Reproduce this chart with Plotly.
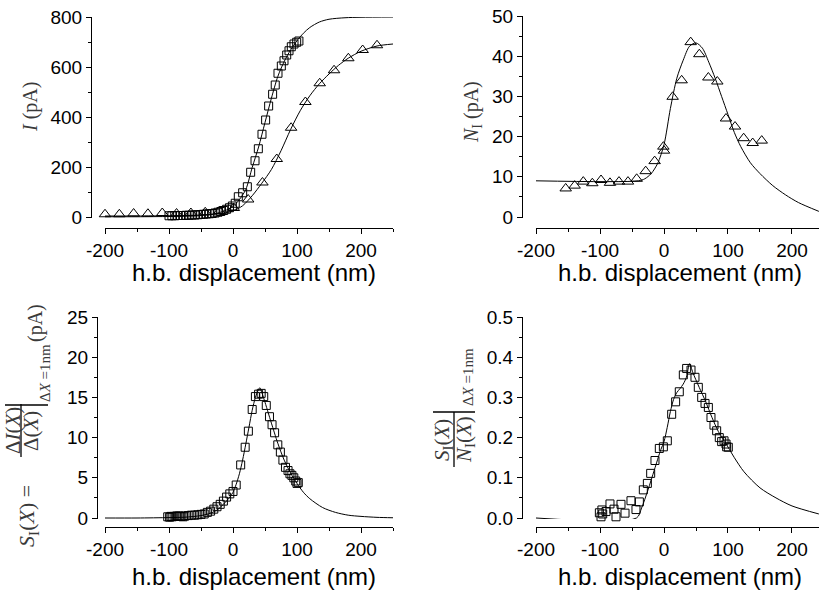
import plotly.graph_objects as go

# ---------------- data ----------------
# Panel A: current I (pA) vs h.b. displacement (nm)
tri_a_x = [-200, -177.6, -155.3, -132.9, -110.5, -88.2, -65.8, -43.4, -21.1, 1.3,
           23.7, 46.0, 68.4, 90.8, 113.1, 135.5, 157.9, 180.2, 202.6, 225.0]
tri_a_y = [11, 11, 14, 13, 16, 14, 16, 19, 24, 36,
           70, 138, 232, 357, 460, 535, 587, 635, 668, 687]
sq_a_x = [-100, -95.5, -91, -86.5, -82, -77.5, -73, -68.5, -64, -59.5, -55, -50.5,
          -46, -41.5, -37, -32.5, -28, -23.5, -19, -14.5, -10, -5.5, -1, 3.5, 8.3,
          15.1, 22.4, 27.6, 34.4, 39.6, 45.3, 51.0, 55.7, 61.9, 66.0, 70.3, 75.5,
          79.7, 83.9, 87.5, 91.1, 95.3, 99.5, 103.0]
sq_a_y = [5, 5, 5, 6, 6, 6, 7, 7, 8, 8, 9, 10, 11, 12, 13, 14, 16, 19, 22, 26, 31,
          37, 44, 55, 81, 97, 121, 179, 225, 273, 331, 388, 444, 491, 528, 575,
          604, 625, 648, 665, 681, 692, 699, 704]
fit_sq_a_x = [-200, -150, -100, -75, -50, -25, -10, 0, 10, 20, 30, 40, 50, 60, 70,
              80, 90, 100, 110, 120, 135, 150, 175, 200, 250]
fit_sq_a_y = [1, 1, 2, 3, 6, 15, 28, 42, 70, 110, 198, 280, 378, 475, 562, 622,
              668, 705, 735, 758, 780, 791, 797, 799, 800]
fit_tri_a_x = [-200, -150, -100, -50, -25, 0, 15, 30, 45, 60, 75, 90, 105, 120,
               135, 150, 165, 180, 200, 225, 250]
fit_tri_a_y = [4, 4, 5, 8, 12, 24, 45, 85, 135, 190, 265, 350, 425, 485, 533, 572,
               607, 635, 663, 684, 692]

# Panel B: N_I (pA)
tri_b_x = [-153.6, -139.6, -126.1, -112.0, -98.4, -84.4, -70.3, -56.3, -42.7, -28.6,
           -14.6, -1.0, 0.0, 13.5, 27.6, 41.7, 55.2, 69.3, 83.3, 96.9, 111.0, 124.5,
           138.6, 152.7]
tri_b_y = [7.1, 7.8, 8.8, 8.4, 9.2, 8.5, 8.8, 8.8, 9.5, 11.4, 13.9, 17.5, 16.5, 29.9,
           34.0, 43.5, 40.5, 34.7, 33.7, 24.5, 22.5, 19.6, 18.4, 19.0]
fit_b_x = [-200, -40, -30, -20, -10, 0, 10, 20, 30, 40, 50, 60, 70, 80, 90, 100, 110,
           120, 135, 150, 170, 190, 210, 242]
fit_b_y = [9, 9, 9.5, 10.8, 13.3, 18.0, 27, 34.5, 39.0, 42.5, 43.3, 42, 38.5, 34.5,
           30, 25.5, 21, 17.5, 13.5, 10.8, 7.8, 5.5, 3.6, 1.4]

# Panel C: S_I (pA)
sq_c_x = [-102, -99, -97, -95, -92, -88, -86, -84, -81, -78, -75, -70, -65, -60, -55,
          -50, -45, -40, -35, -30, -25, -20, -15, -10, -5, 0, 5, 12, 19, 24, 30, 35,
          40, 44, 48, 52, 57, 61, 65, 70, 74, 78, 82, 86, 89, 92, 95, 98, 100, 102]
sq_c_y = [0.15, 0.1, 0.2, 0.15, 0.2, 0.25, 0.2, 0.25, 0.2, 0.15, 0.25, 0.3, 0.35,
          0.35, 0.4, 0.45, 0.5, 0.7, 0.85, 1.1, 1.4, 1.7, 2.1, 2.6, 3.0, 3.3, 4.1,
          6.6, 8.8, 10.8, 13.5, 15.1, 15.4, 15.5, 15.1, 14.0, 12.6, 11.6, 10.6, 9.1,
          8.2, 7.2, 6.3, 5.9, 5.5, 5.3, 5.0, 4.6, 4.3, 4.4]
fit_c_x = [-200, -150, -100, -75, -50, -35, -25, -15, -5, 0, 5, 10, 15, 20, 25, 30,
           35, 40, 42, 45, 50, 55, 60, 70, 80, 90, 100, 110, 120, 140, 160, 180, 200,
           225, 250]
fit_c_y = [0.0, 0.0, 0.05, 0.1, 0.3, 0.6, 1.0, 1.7, 2.6, 3.2, 4.2, 5.5, 7.2, 9.2,
           11.3, 13.4, 15.0, 16.0, 16.2, 15.6, 14.4, 13.1, 11.8, 9.3, 7.2, 5.6, 4.3,
           3.2, 2.4, 1.3, 0.7, 0.35, 0.2, 0.08, 0.03]

# Panel D: S_I / N_I
sq_d_x = [-101, -98.4, -95.8, -97, -90.6, -84.4, -78.1, -75, -67.2, -60.9, -51.6,
          -43.8, -38.5, -32.3, -26, -20.8, -14.1, -7.3, -1, 5.2, 12, 18.2, 23.9, 30.2,
          35.4, 42.2, 48.4, 53.6, 58.9, 64.1, 69.3, 73.4, 78.1, 82.3, 86.4, 90.1,
          93.8, 96.9, 97.9, 100.5]
sq_d_y = [0.013, 0.003, 0.01, 0.02, 0.016, 0.035, 0.022, 0.003, 0.034, 0.012, 0.043,
          0.021, 0.04, 0.07, 0.086, 0.111, 0.143, 0.173, 0.177, 0.192, 0.258, 0.289,
          0.314, 0.356, 0.372, 0.368, 0.35, 0.325, 0.30, 0.285, 0.275, 0.25, 0.231,
          0.217, 0.2, 0.19, 0.192, 0.184, 0.177, 0.176]
fit_d_x = [-200, -43, -35, -25, -15, -5, 0, 5, 10, 15, 20, 25, 30, 35, 40, 45, 55, 65,
           75, 85, 95, 110, 125, 150, 175, 200, 242]
fit_d_y = [0, 0, 0.025, 0.07, 0.12, 0.17, 0.19, 0.225, 0.265, 0.295, 0.312, 0.322,
           0.333, 0.35, 0.384, 0.362, 0.325, 0.29, 0.25, 0.215, 0.19, 0.15, 0.115,
           0.075, 0.05, 0.03, 0.01]

x_tickvals = [-200, -100, 0, 100, 200]
x_ticktext = ["-200", "-100", "0", "100", "200"]
x_title = "h.b. displacement (nm)"

# ---------------- layout helpers ----------------
W, H = 819, 592
def fx(px): return px / W
def fy(py): return 1 - py / H

TICKFONT = dict(family="Liberation Sans, Arial, sans-serif", size=19, color="black")
SERIF = "Liberation Serif, Times New Roman, serif"
TCOL = "#3a3a3a"

def xaxis(dom, rng, pos):
    return dict(domain=dom, range=rng, anchor="free", position=pos,
                showline=True, linecolor="black", linewidth=1,
                ticks="outside", ticklen=5, tickwidth=1, tickcolor="black",
                tickmode="array", tickvals=x_tickvals, ticktext=x_ticktext,
                minor=dict(ticks="outside", ticklen=3, tickmode="linear",
                           tick0=0, dtick=50, tickcolor="black", tickwidth=1),
                showgrid=False, zeroline=False, tickfont=TICKFONT)

def yaxis(dom, rng, pos, dtick, fmt=None):
    d = dict(domain=dom, range=rng, anchor="free", position=pos,
             showline=True, linecolor="black", linewidth=1,
             ticks="outside", ticklen=5, tickwidth=1, tickcolor="black",
             tick0=0, dtick=dtick,
             minor=dict(ticks="outside", ticklen=3, tick0=0, dtick=dtick / 2,
                        tickcolor="black", tickwidth=1),
             showgrid=False, zeroline=False, tickfont=TICKFONT)
    if fmt:
        d["tickformat"] = fmt
    return d

fig = go.Figure()

def line(x, y, xa, ya):
    fig.add_trace(go.Scatter(x=x, y=y, mode="lines", xaxis=xa, yaxis=ya,
                             line=dict(color="black", width=1, shape="spline",
                                       smoothing=0.8),
                             showlegend=False, hoverinfo="skip"))

def pts(x, y, xa, ya, sym, size):
    fig.add_trace(go.Scatter(x=x, y=y, mode="markers", xaxis=xa, yaxis=ya,
                             cliponaxis=False,
                             marker=dict(symbol=sym, size=size, color="black",
                                         line=dict(color="black", width=1)),
                             showlegend=False))

# Panel A
line(fit_sq_a_x, fit_sq_a_y, "x", "y")
line(fit_tri_a_x, fit_tri_a_y, "x", "y")
pts(tri_a_x, tri_a_y, "x", "y", "triangle-up-open", 10)
pts(sq_a_x, sq_a_y, "x", "y", "square-open", 8)
# Panel B
line(fit_b_x, fit_b_y, "x2", "y2")
pts(tri_b_x, tri_b_y, "x2", "y2", "triangle-up-open", 10)
# Panel C
line(fit_c_x, fit_c_y, "x3", "y3")
pts(sq_c_x, sq_c_y, "x3", "y3", "square-open", 8)
# Panel D
line(fit_d_x, fit_d_y, "x4", "y4")
pts(sq_d_x, sq_d_y, "x4", "y4", "square-open", 8)

fig.update_layout(
    width=W, height=H, margin=dict(l=0, r=0, t=0, b=0, autoexpand=False),
    paper_bgcolor="white", plot_bgcolor="white",
    xaxis=xaxis([fx(105), fx(393)], [-200, 250], fy(228)),
    yaxis=yaxis([fy(218), fy(17)], [-4, 800], fx(91), 200),
    xaxis2=xaxis([fx(536), 1.0], [-200, 242.2], fy(228)),
    yaxis2=yaxis([fy(218), fy(16)], [-0.25, 50], fx(522), 10),
    xaxis3=xaxis([fx(105), fx(393)], [-200, 250], fy(527)),
    yaxis3=yaxis([fy(519), fy(317)], [-0.125, 25], fx(97), 5),
    xaxis4=xaxis([fx(536), 1.0], [-200, 242.2], fy(527)),
    yaxis4=yaxis([fy(519), fy(317)], [-0.0025, 0.5], fx(522), 0.1, ".1f"),
)

ann = []
def text(px, py, t, size, family, color="black", angle=0):
    ann.append(dict(x=fx(px), y=fy(py), xref="paper", yref="paper", text=t,
                    showarrow=False, xanchor="center", yanchor="middle",
                    textangle=angle, font=dict(family=family, size=size, color=color)))

XT = "Liberation Sans, Arial, sans-serif"
text(254, 272, x_title, 24, XT)
text(680, 272, x_title, 24, XT)
text(254, 576, x_title, 24, XT)
text(680, 576, x_title, 24, XT)

# y titles
text(31, 107, "<i>I</i> (pA)", 20, SERIF, TCOL, -90)
text(472, 112, "<i>N</i><sub>I</sub> (pA)", 20, SERIF, TCOL, -90)

# panel C title: S_I(X) = dI(X)/d(X) |_{dX=1nm} (pA)
text(28, 513, "<i>S</i><sub>I</sub>(<i>X</i>) = ", 22, SERIF, TCOL, -90)
text(13, 431, "Δ<i>I</i>(<i>X</i>)", 21, SERIF, TCOL, -90)
text(31, 431, "Δ(<i>X</i>)", 21, SERIF, TCOL, -90)
text(45, 373, "Δ<i>X</i> =1nm", 15, SERIF, TCOL, -90)
text(35, 323, "(pA)", 20, SERIF, TCOL, -90)

# panel D title: S_I(X)/N_I(X) |_{dX=1nm}
text(443, 440, "<i>S</i><sub>I</sub>(<i>X</i>)", 21, SERIF, TCOL, -90)
text(465, 440, "<i>N</i><sub>I</sub>(<i>X</i>)", 21, SERIF, TCOL, -90)
text(468, 377, "Δ<i>X</i> =1nm", 15, SERIF, TCOL, -90)

shapes = []
def seg(x0, y0, x1, y1, w=1.3):
    shapes.append(dict(type="line", xref="paper", yref="paper",
                       x0=fx(x0), y0=fy(y0), x1=fx(x1), y1=fy(y1),
                       line=dict(color="black", width=w)))
seg(21, 404, 21, 457)     # fraction bar C
seg(5, 405, 48, 405)      # evaluation bar C
seg(454, 412, 454, 467)   # fraction bar D
seg(433, 412, 475, 412)   # evaluation bar D

fig.update_layout(annotations=ann, shapes=shapes)
fig.write_html("out.html",
               config={"displayModeBar": False},
               post_script="document.body.style.margin='0';"
                           "document.body.style.overflow='hidden';")
